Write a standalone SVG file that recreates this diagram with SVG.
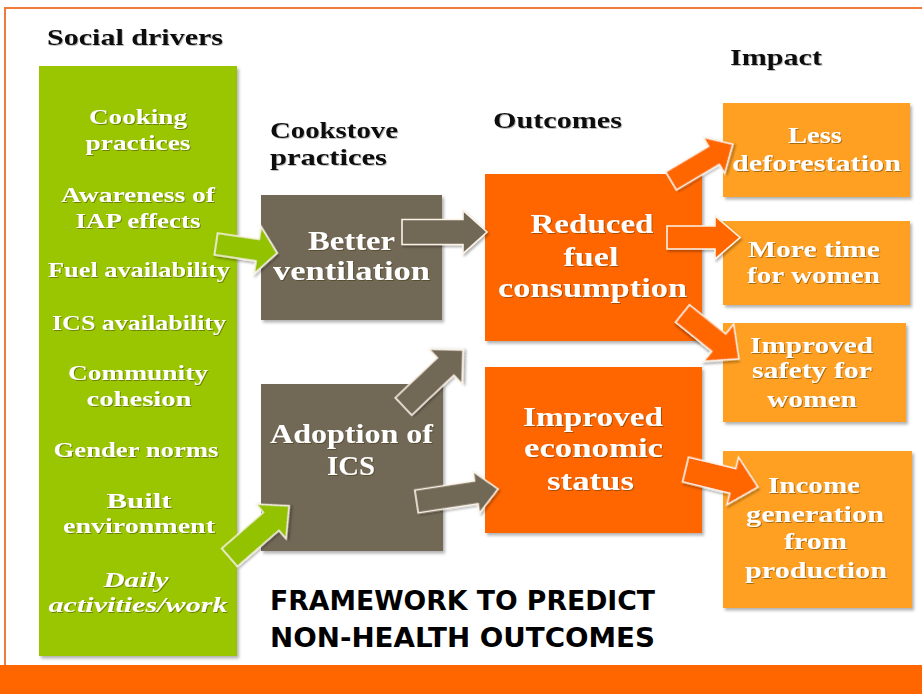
<svg xmlns="http://www.w3.org/2000/svg" width="922" height="694" viewBox="0 0 922 694">
  <defs>
    <filter id="boxShadow" x="-10%" y="-10%" width="125%" height="125%">
      <feDropShadow dx="2" dy="2.5" stdDeviation="1.5" flood-color="#000" flood-opacity="0.3"/>
    </filter>
    <filter id="arrowShadow" x="-20%" y="-20%" width="150%" height="150%">
      <feDropShadow dx="1.5" dy="2" stdDeviation="1.2" flood-color="#000" flood-opacity="0.3"/>
    </filter>
    <filter id="textShadow" x="-5%" y="-20%" width="115%" height="150%">
      <feDropShadow dx="1" dy="1" stdDeviation="0.6" flood-color="#3a2a10" flood-opacity="0.45"/>
    </filter>
    <filter id="headShadow" x="-5%" y="-20%" width="115%" height="150%">
      <feDropShadow dx="1" dy="1" stdDeviation="0.6" flood-color="#000" flood-opacity="0.25"/>
    </filter>
  </defs>
  <style>
    .frame { fill: none; stroke: #F07B3A; stroke-width: 2; }
    .band { fill: #FF6600; }
    .green { fill: #99C600; filter: url(#boxShadow); }
    .gray { fill: #726757; filter: url(#boxShadow); }
    .orange { fill: #FF6600; filter: url(#boxShadow); }
    .light { fill: #FFA024; filter: url(#boxShadow); }
    .head { font-family: "Liberation Serif", "DejaVu Serif", serif; font-weight: bold; font-size: 23px; fill: #111; filter: url(#headShadow); }
    .lbl { font-family: "Liberation Serif", "DejaVu Serif", serif; font-weight: bold; fill: #fff; text-anchor: middle; filter: url(#textShadow); }
    .s22 { font-size: 22px; }
    .s23 { font-size: 23px; }
    .s27 { font-size: 27px; }
    .it { font-style: italic; }
    .title { font-family: "DejaVu Sans", "Liberation Sans", sans-serif; font-weight: bold; font-size: 27px; fill: #000; }
    .arr { stroke: #FBF3E6; stroke-width: 1.6; stroke-linejoin: miter; filter: url(#arrowShadow); }
    .ag { fill: #93C300; }
    .ab { fill: #726757; }
    .ao { fill: #FF6600; }
  </style>

  <rect width="922" height="694" fill="#fff"/>

  <!-- page frame and footer band -->
  <path class="frame" d="M5,665 L5,8 L922,8"/>
  <rect class="band" x="0" y="665" width="922" height="29"/>

  <!-- column headings -->
  <g id="headings">
    <text class="head" x="47" y="45" textLength="176" lengthAdjust="spacingAndGlyphs">Social drivers</text>
    <text class="head" x="270" y="138" textLength="128" lengthAdjust="spacingAndGlyphs">Cookstove</text>
    <text class="head" x="270" y="165" textLength="117" lengthAdjust="spacingAndGlyphs">practices</text>
    <text class="head" x="493" y="128" textLength="129" lengthAdjust="spacingAndGlyphs">Outcomes</text>
    <text class="head" x="730" y="65" textLength="92" lengthAdjust="spacingAndGlyphs">Impact</text>
  </g>

  <!-- social drivers -->
  <g id="social-drivers">
    <rect class="green" x="39" y="66" width="198" height="590"/>
    <text class="lbl s22" x="138" y="124" textLength="98" lengthAdjust="spacingAndGlyphs">Cooking</text>
    <text class="lbl s22" x="138" y="150" textLength="105" lengthAdjust="spacingAndGlyphs">practices</text>
    <text class="lbl s22" x="138" y="202" textLength="154" lengthAdjust="spacingAndGlyphs">Awareness of</text>
    <text class="lbl s22" x="138" y="228" textLength="125" lengthAdjust="spacingAndGlyphs">IAP effects</text>
    <text class="lbl s22" x="139" y="277" textLength="182" lengthAdjust="spacingAndGlyphs">Fuel availability</text>
    <text class="lbl s22" x="139" y="330" textLength="174" lengthAdjust="spacingAndGlyphs">ICS availability</text>
    <text class="lbl s22" x="138" y="380" textLength="140" lengthAdjust="spacingAndGlyphs">Community</text>
    <text class="lbl s22" x="139" y="406" textLength="105" lengthAdjust="spacingAndGlyphs">cohesion</text>
    <text class="lbl s22" x="136" y="457" textLength="165" lengthAdjust="spacingAndGlyphs">Gender norms</text>
    <text class="lbl s22" x="139" y="508" textLength="65" lengthAdjust="spacingAndGlyphs">Built</text>
    <text class="lbl s22" x="139" y="533" textLength="152" lengthAdjust="spacingAndGlyphs">environment</text>
    <text class="lbl s22 it" x="136" y="587" textLength="65" lengthAdjust="spacingAndGlyphs">Daily</text>
    <text class="lbl s22 it" x="138" y="612" textLength="179" lengthAdjust="spacingAndGlyphs">activities/work</text>
  </g>

  <!-- cookstove practices -->
  <g id="better-ventilation">
    <rect class="gray" x="261" y="195" width="181" height="125"/>
    <text class="lbl s27" x="351.5" y="250" textLength="87" lengthAdjust="spacingAndGlyphs">Better</text>
    <text class="lbl s27" x="351.5" y="280" textLength="157" lengthAdjust="spacingAndGlyphs">ventilation</text>
  </g>
  <g id="adoption-ics">
    <rect class="gray" x="261" y="384" width="182" height="167"/>
    <text class="lbl s27" x="351.5" y="443" textLength="163" lengthAdjust="spacingAndGlyphs">Adoption of</text>
    <text class="lbl s27" x="351" y="475" textLength="48" lengthAdjust="spacingAndGlyphs">ICS</text>
  </g>

  <!-- outcomes -->
  <g id="reduced-fuel">
    <rect class="orange" x="485" y="174" width="217" height="167"/>
    <text class="lbl s27" x="592" y="233" textLength="123" lengthAdjust="spacingAndGlyphs">Reduced</text>
    <text class="lbl s27" x="591" y="266" textLength="55" lengthAdjust="spacingAndGlyphs">fuel</text>
    <text class="lbl s27" x="592.5" y="297" textLength="189" lengthAdjust="spacingAndGlyphs">consumption</text>
  </g>
  <g id="improved-economic">
    <rect class="orange" x="485" y="367" width="217" height="166"/>
    <text class="lbl s27" x="593" y="426" textLength="140" lengthAdjust="spacingAndGlyphs">Improved</text>
    <text class="lbl s27" x="593.5" y="457" textLength="139" lengthAdjust="spacingAndGlyphs">economic</text>
    <text class="lbl s27" x="590.5" y="490" textLength="87" lengthAdjust="spacingAndGlyphs">status</text>
  </g>

  <!-- impact -->
  <g id="less-deforestation">
    <rect class="light" x="723" y="103" width="187" height="94"/>
    <text class="lbl s23" x="815" y="143" textLength="54" lengthAdjust="spacingAndGlyphs">Less</text>
    <text class="lbl s23" x="816.5" y="171" textLength="169" lengthAdjust="spacingAndGlyphs">deforestation</text>
  </g>
  <g id="more-time">
    <rect class="light" x="723" y="221" width="187" height="84"/>
    <text class="lbl s23" x="814" y="257" textLength="132" lengthAdjust="spacingAndGlyphs">More time</text>
    <text class="lbl s23" x="813.5" y="283" textLength="133" lengthAdjust="spacingAndGlyphs">for women</text>
  </g>
  <g id="improved-safety">
    <rect class="light" x="723" y="323" width="183" height="99"/>
    <text class="lbl s23" x="811.5" y="353" textLength="123" lengthAdjust="spacingAndGlyphs">Improved</text>
    <text class="lbl s23" x="812" y="378" textLength="120" lengthAdjust="spacingAndGlyphs">safety for</text>
    <text class="lbl s23" x="812" y="407" textLength="90" lengthAdjust="spacingAndGlyphs">women</text>
  </g>
  <g id="income-generation">
    <rect class="light" x="723" y="451" width="189" height="157"/>
    <text class="lbl s23" x="814" y="493" textLength="92" lengthAdjust="spacingAndGlyphs">Income</text>
    <text class="lbl s23" x="815" y="522" textLength="138" lengthAdjust="spacingAndGlyphs">generation</text>
    <text class="lbl s23" x="815.5" y="549" textLength="63" lengthAdjust="spacingAndGlyphs">from</text>
    <text class="lbl s23" x="816" y="578" textLength="142" lengthAdjust="spacingAndGlyphs">production</text>
  </g>

  <!-- block arrows -->
  <g id="connectors">
    <polygon class="arr ag" transform="translate(216,244) rotate(8.4)" points="0,-11 42,-11 42,-24 62,0 42,24 42,11 0,11"/>
    <polygon class="arr ag" transform="translate(229.5,557.5) rotate(-40.9)" points="0,-12 55,-12 55,-23 79,0 55,23 55,12 0,12"/>
    <polygon class="arr ab" transform="translate(402,232)" points="0,-12.5 61,-12.5 61,-21.5 85,0 61,21.5 61,12.5 0,12.5"/>
    <polygon class="arr ab" transform="translate(403.5,406.5) rotate(-43.5)" points="0,-12 58,-12 58,-24 82,0 58,24 58,12 0,12"/>
    <polygon class="arr ab" transform="translate(416.5,501.5) rotate(-8.7)" points="0,-11.5 60.5,-11.5 60.5,-21 82.5,0 60.5,21 60.5,11.5 0,11.5"/>
    <polygon class="arr ao" transform="translate(671,181) rotate(-30.8)" points="0,-10.5 50,-10.5 50,-21 72,0 50,21 50,10.5 0,10.5"/>
    <polygon class="arr ao" transform="translate(667,237.5)" points="0,-11.5 48,-11.5 48,-21.5 73,0 48,21.5 48,11.5 0,11.5"/>
    <polygon class="arr ao" transform="translate(682.5,313.5) rotate(38.8)" points="0,-11.3 46.5,-11.3 46.5,-24 72.5,0 46.5,24 46.5,11.3 0,11.3"/>
    <polygon class="arr ao" transform="translate(685.5,469.5) rotate(13.6)" points="0,-12.7 48.6,-12.7 48.6,-24.5 74.6,0 48.6,24.5 48.6,12.7 0,12.7"/>
  </g>

  <!-- caption -->
  <g id="caption">
    <text class="title" x="270" y="610" textLength="385" lengthAdjust="spacingAndGlyphs">FRAMEWORK TO PREDICT</text>
    <text class="title" x="270" y="647" textLength="385" lengthAdjust="spacingAndGlyphs">NON-HEALTH OUTCOMES</text>
  </g>
</svg>
